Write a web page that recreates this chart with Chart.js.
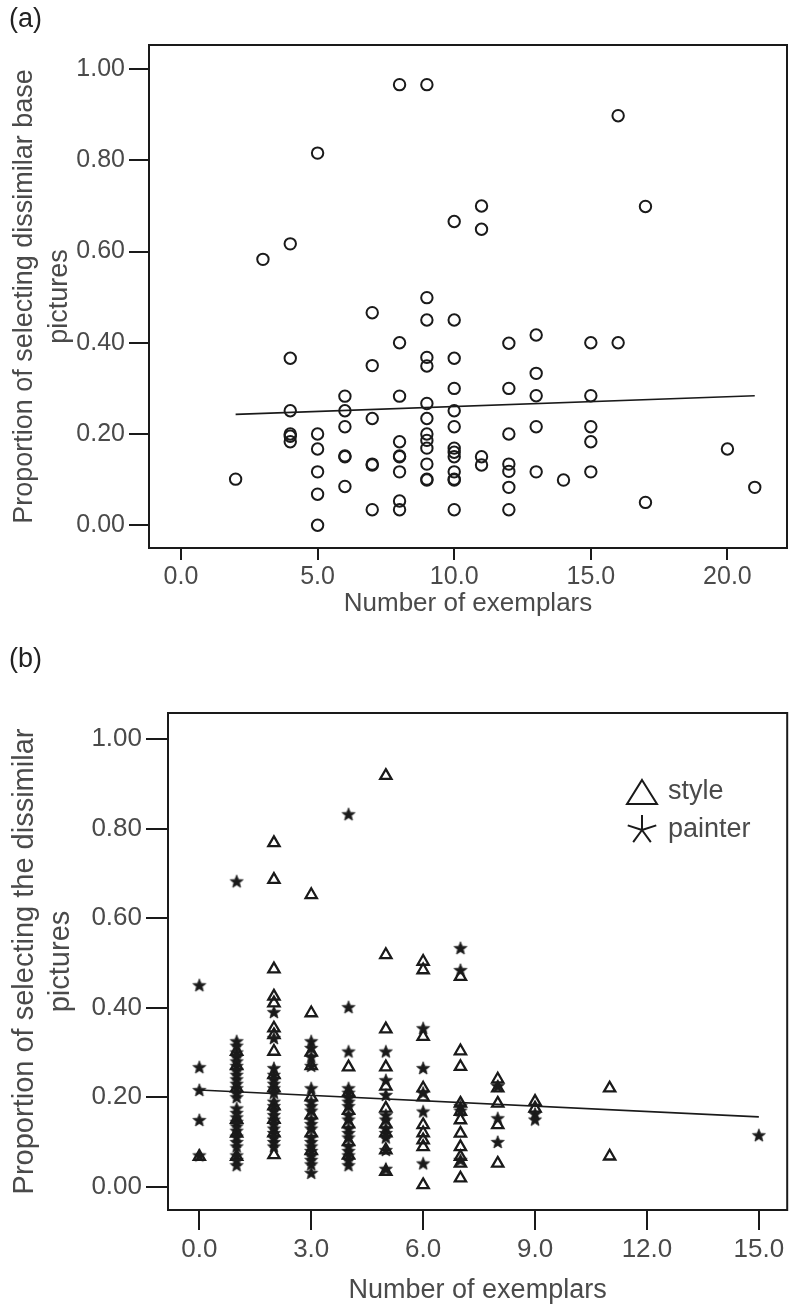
<!DOCTYPE html>
<html><head><meta charset="utf-8">
<script src="https://cdn.jsdelivr.net/npm/chart.js@4.4.1/dist/chart.umd.min.js"></script>
<style>
html,body{margin:0;padding:0;background:#fff;}
#wrap{position:relative;width:796px;height:1315px;overflow:hidden;}
canvas{position:absolute;left:0;}
</style></head><body>
<div id="wrap">
<canvas id="chartA" width="796" height="620" style="top:0px"></canvas>
<canvas id="chartB" width="796" height="685" style="top:630px"></canvas>
</div>
<script>
// ---------- Panel (a) data ----------
const aExemplars = [
  2,
  3,
  4,4,4,4,4,4,
  5,5,5,5,5,5,
  6,6,6,6,6,6,
  7,7,7,7,7,7,
  8,8,8,8,8,8,8,8,8,
  9,9,9,9,9,9,9,9,9,9,9,9,9,
  10,10,10,10,10,10,10,10,10,10,10,10,10,
  11,11,11,11,
  12,12,12,12,12,12,12,
  13,13,13,13,13,
  14,
  15,15,15,15,15,
  16,16,
  17,17,
  20,
  21
];
const aProportion = [
  0.101,
  0.583,
  0.617,0.366,0.251,0.200,0.195,0.183,
  0.816,0.200,0.167,0.117,0.068,0.000,
  0.283,0.251,0.216,0.152,0.150,0.085,
  0.466,0.350,0.234,0.134,0.132,0.034,
  0.966,0.400,0.283,0.183,0.152,0.150,0.117,0.053,0.034,
  0.966,0.499,0.450,0.368,0.349,0.267,0.234,0.200,0.186,0.169,0.134,0.101,0.099,
  0.666,0.450,0.366,0.300,0.251,0.216,0.169,0.160,0.150,0.117,0.101,0.099,0.034,
  0.700,0.649,0.150,0.132,
  0.399,0.300,0.200,0.134,0.118,0.083,0.034,
  0.417,0.333,0.284,0.216,0.117,
  0.099,
  0.400,0.284,0.216,0.183,0.117,
  0.898,0.400,
  0.699,0.050,
  0.167,
  0.083
];
const aFitX = [2, 21];
const aFitY = [0.243, 0.284];
const aXTicks = [0, 5, 10, 15, 20];
const aXTickLabels = ['0.0', '5.0', '10.0', '15.0', '20.0'];
const aYTicks = [0, 0.2, 0.4, 0.6, 0.8, 1.0];
const aYTickLabels = ['0.00', '0.20', '0.40', '0.60', '0.80', '1.00'];
const aYTitle = ['Proportion of selecting dissimilar base', 'pictures'];

// ---------- Panel (b) data ----------
const styleExemplars = [
  0,
  1,1,1,1,1,1,
  2,2,2,2,2,2,2,2,2,2,2,2,2,2,
  3,3,3,3,3,3,3,3,
  4,4,4,4,4,4,
  5,5,5,5,5,5,5,5,5,5,
  6,6,6,6,6,6,6,6,6,6,
  7,7,7,7,7,7,7,7,7,7,7,
  8,8,8,8,8,
  9,9,
  11,11
];
const styleProportion = [
  0.067,
  0.302,0.270,0.220,0.150,0.119,0.067,
  0.768,0.686,0.486,0.425,0.410,0.354,0.339,0.302,0.250,0.220,0.180,0.150,0.120,0.071,
  0.652,0.388,0.300,0.270,0.200,0.160,0.120,0.080,
  0.267,0.210,0.170,0.140,0.100,0.070,
  0.918,0.518,0.352,0.267,0.224,0.175,0.140,0.120,0.082,0.034,
  0.503,0.484,0.335,0.220,0.200,0.138,0.120,0.104,0.089,0.004,
  0.469,0.303,0.268,0.186,0.168,0.149,0.119,0.089,0.067,0.052,0.019,
  0.240,0.220,0.186,0.138,0.052,
  0.190,0.175,
  0.220,0.068
];
const painterExemplars = [
  0,0,0,0,0,
  1,1,1,1,1,1,1,1,1,1,1,1,1,1,1,1,1,1,1,1,1,1,1,1,1,1,
  2,2,2,2,2,2,2,2,2,2,2,2,2,2,2,2,2,2,2,
  3,3,3,3,3,3,3,3,3,3,3,3,3,3,3,3,3,3,3,
  4,4,4,4,4,4,4,4,4,4,4,4,4,4,4,4,4,4,
  5,5,5,5,5,5,5,5,5,5,
  6,6,6,6,6,
  7,7,7,7,7,
  8,8,8,
  9,9,
  15
];
const painterProportion = [
  0.450,0.267,0.216,0.149,0.070,
  0.682,0.325,0.315,0.300,0.290,0.280,0.270,0.260,0.250,0.240,0.230,0.220,0.210,0.200,0.175,0.165,0.155,0.145,0.135,0.125,0.112,0.100,0.090,0.070,0.060,0.048,
  0.390,0.332,0.265,0.250,0.240,0.230,0.220,0.210,0.190,0.180,0.170,0.160,0.150,0.140,0.130,0.120,0.110,0.100,0.090,
  0.325,0.310,0.290,0.270,0.220,0.190,0.180,0.170,0.150,0.140,0.130,0.110,0.100,0.090,0.080,0.070,0.060,0.050,0.031,
  0.832,0.401,0.302,0.220,0.210,0.200,0.190,0.180,0.160,0.150,0.130,0.120,0.110,0.090,0.080,0.070,0.060,0.048,
  0.302,0.238,0.205,0.160,0.150,0.130,0.120,0.110,0.082,0.040,
  0.354,0.265,0.210,0.168,0.052,
  0.533,0.484,0.180,0.170,0.060,
  0.225,0.153,0.100,
  0.163,0.150,
  0.115
];
const bFitX = [0, 15];
const bFitY = [0.216, 0.156];
const bXTicks = [0, 3, 6, 9, 12, 15];
const bXTickLabels = ['0.0', '3.0', '6.0', '9.0', '12.0', '15.0'];
const bYTicks = [0, 0.2, 0.4, 0.6, 0.8, 1.0];
const bYTickLabels = ['0.00', '0.20', '0.40', '0.60', '0.80', '1.00'];
const bYTitle = ['Proportion of selecting the dissimilar', 'pictures'];
const xTitle = 'Number of exemplars';
const legendLabels = ['style', 'painter'];

// ---------- helpers ----------
const FONT = '"Liberation Sans", Arial, Helvetica, sans-serif';
const TEXT = '#4a4a4a';
const INK = '#1a1a1a';
const pts = (xs, ys) => xs.map((x, i) => ({x: x, y: ys[i]}));

function makeStar(size, outer, inner) {
  const c = document.createElement('canvas');
  c.width = size; c.height = size;
  const g = c.getContext('2d');
  g.beginPath();
  for (let k = 0; k < 10; k++) {
    const r = (k % 2) ? inner : outer;
    const a = -Math.PI / 2 + k * Math.PI / 5;
    g.lineTo(size / 2 + r * Math.cos(a), size / 2 + 0.5 + r * Math.sin(a));
  }
  g.closePath();
  g.fillStyle = INK; g.fill();
  g.lineWidth = 0.8; g.strokeStyle = INK; g.stroke();
  return c;
}
const starImg = makeStar(16, 6.8, 2.9);

const decorPlugin = {
  id: 'decor',
  afterDraw(chart, args, opts) {
    const ctx = chart.ctx;
    const ca = chart.chartArea;
    ctx.save();
    ctx.strokeStyle = INK;
    ctx.lineWidth = 2;
    ctx.strokeRect(ca.left, ca.top, ca.right - ca.left, ca.bottom - ca.top);
    if (opts.panelLabel) {
      ctx.fillStyle = '#222';
      ctx.font = opts.panelFont + ' ' + FONT;
      ctx.textAlign = 'left';
      ctx.textBaseline = 'middle';
      ctx.fillText(opts.panelLabel, opts.panelX, opts.panelY);
    }
    if (opts.legend) {
      const L = opts.legend;
      ctx.strokeStyle = INK;
      ctx.lineWidth = 2;
      ctx.beginPath();
      ctx.moveTo(L.x, L.y1 - 12);
      ctx.lineTo(L.x + 15, L.y1 + 12);
      ctx.lineTo(L.x - 15, L.y1 + 12);
      ctx.closePath();
      ctx.stroke();
      ctx.beginPath();
      for (let k = 0; k < 5; k++) {
        const a = -Math.PI / 2 + k * 2 * Math.PI / 5;
        ctx.moveTo(L.x, L.y2);
        ctx.lineTo(L.x + 15 * Math.cos(a), L.y2 + 15 * Math.sin(a));
      }
      ctx.stroke();
      ctx.fillStyle = TEXT;
      ctx.font = L.font + ' ' + FONT;
      ctx.textAlign = 'left';
      ctx.textBaseline = 'middle';
      ctx.fillText(L.labels[0], L.textX, L.y1);
      ctx.fillText(L.labels[1], L.textX, L.y2);
    }
    ctx.restore();
  }
};

function axisX(c) {
  return {
    type: 'linear', position: 'bottom', min: c.min, max: c.max,
    afterBuildTicks: s => { s.ticks = c.ticks.map(v => ({value: v})); },
    afterFit: s => { s.height = c.height; },
    ticks: { callback: (v, i) => c.labels[i], font: {family: FONT, size: c.tickFont, lineHeight: 1.2},
             color: TEXT, padding: c.tickPad, maxRotation: 0, autoSkip: false },
    grid: { display: true, drawOnChartArea: false, drawTicks: true, tickLength: c.tickLen,
            color: INK, lineWidth: 2 },
    border: { display: true, color: INK, width: 2 },
    title: { display: true, text: xTitle, font: {family: FONT, size: c.titleFont, lineHeight: 1.2},
             color: TEXT, padding: {top: 0, bottom: c.titlePad} }
  };
}
function axisY(c) {
  return {
    type: 'linear', position: 'left', min: c.min, max: c.max,
    afterBuildTicks: s => { s.ticks = c.ticks.map(v => ({value: v})); },
    afterFit: s => { s.width = c.width; },
    ticks: { callback: (v, i) => c.labels[i], font: {family: FONT, size: c.tickFont},
             color: TEXT, padding: c.tickPad, autoSkip: false },
    grid: { display: true, drawOnChartArea: false, drawTicks: true, tickLength: c.tickLen,
            color: INK, lineWidth: 2 },
    border: { display: true, color: INK, width: 2 },
    title: { display: true, text: c.title, color: TEXT,
             font: {family: FONT, size: c.titleFont, lineHeight: c.titleLH},
             padding: {top: c.titlePad, bottom: 0} }
  };
}

// ---------- Chart (a) ----------
new Chart(document.getElementById('chartA'), {
  type: 'scatter',
  data: {
    datasets: [
      { label: 'fit', type: 'line', data: pts(aFitX, aFitY), showLine: true,
        borderColor: INK, borderWidth: 1.6, pointRadius: 0, fill: false },
      { label: 'cases', data: pts(aExemplars, aProportion), pointStyle: 'circle',
        pointRadius: 5.7, borderWidth: 2, borderColor: INK,
        backgroundColor: 'rgba(0,0,0,0)' }
    ]
  },
  options: {
    responsive: false, animation: false, events: [],
    layout: { padding: { left: 0, top: 45, right: 9, bottom: 0 } },
    scales: {
      x: axisX({min: -1.17, max: 22.18, ticks: aXTicks, labels: aXTickLabels, height: 72,
                tickFont: 25, tickLen: 12, tickPad: 2, titleFont: 26, titlePad: 1}),
      y: axisY({min: -0.05, max: 1.053, ticks: aYTicks, labels: aYTickLabels, width: 149,
                tickFont: 25, tickLen: 20, tickPad: 4, title: aYTitle, titleFont: 27,
                titleLH: 1.3, titlePad: 7})
    },
    plugins: {
      legend: { display: false }, tooltip: { enabled: false },
      decor: { panelLabel: '(a)', panelFont: '27px', panelX: 9, panelY: 20 }
    }
  },
  plugins: [decorPlugin]
});

// ---------- Chart (b) ----------
new Chart(document.getElementById('chartB'), {
  type: 'scatter',
  data: {
    datasets: [
      { label: 'fit', type: 'line', data: pts(bFitX, bFitY), showLine: true,
        borderColor: INK, borderWidth: 1.6, pointRadius: 0, fill: false },
      { label: legendLabels[0], data: pts(styleExemplars, styleProportion), pointStyle: 'triangle',
        pointRadius: 6.5, borderWidth: 2.3, borderColor: INK, backgroundColor: 'rgba(0,0,0,0)' },
      { label: legendLabels[1], data: pts(painterExemplars, painterProportion), pointStyle: starImg,
        pointRadius: 6 }
    ]
  },
  options: {
    responsive: false, animation: false, events: [],
    layout: { padding: { left: 0, top: 83, right: 6, bottom: 0 } },
    scales: {
      x: axisX({min: -0.84, max: 15.76, ticks: bXTicks, labels: bXTickLabels, height: 105,
                tickFont: 26, tickLen: 20, tickPad: 4, titleFont: 27, titlePad: 8}),
      y: axisY({min: -0.052, max: 1.058, ticks: bYTicks, labels: bYTickLabels, width: 168,
                tickFont: 26, tickLen: 22, tickPad: 4, title: bYTitle, titleFont: 29,
                titleLH: 1.25, titlePad: 7})
    },
    plugins: {
      legend: { display: false }, tooltip: { enabled: false },
      decor: {
        panelLabel: '(b)', panelFont: '27px', panelX: 9, panelY: 30,
        legend: { x: 642, y1: 162, y2: 200, textX: 668, font: '27px', labels: legendLabels }
      }
    }
  },
  plugins: [decorPlugin]
});
</script>
</body></html>
